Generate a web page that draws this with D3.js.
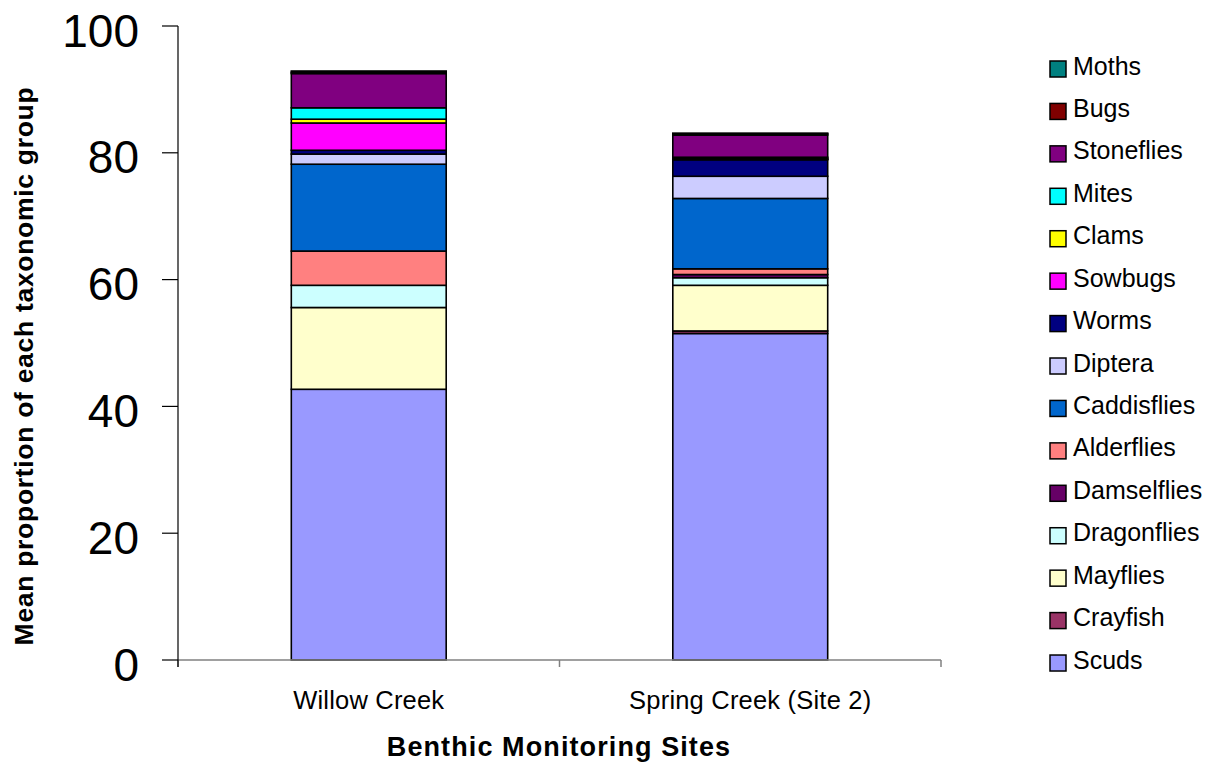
<!DOCTYPE html>
<html><head><meta charset="utf-8">
<script src="https://cdn.jsdelivr.net/npm/d3@7"></script>
<style>
html,body{margin:0;padding:0;background:#fff;}
text{font-family:"Liberation Sans",Arial,sans-serif;}
</style></head>
<body><svg id="c" width="1214" height="764"></svg>
<script>
// Stack order bottom -> top
const taxa = ["Scuds","Crayfish","Mayflies","Dragonflies","Damselflies","Alderflies","Caddisflies","Diptera","Worms","Sowbugs","Clams","Mites","Stoneflies","Bugs","Moths"];
const taxaColors = ["#9999FF","#993366","#FFFFCC","#CCFFFF","#660066","#FF8080","#0066CC","#CCCCFF","#000080","#FF00FF","#FFFF00","#00FFFF","#800080","#800000","#008080"];
const sites = ["Willow Creek","Spring Creek (Site 2)"];
const willowValues = [42.7, 0, 12.9, 3.5, 0, 5.4, 13.7, 1.6, 0.6, 4.3, 0.6, 1.8, 5.4, 0.2, 0.2];
const springValues = [51.5, 0.4, 7.2, 1.2, 0.5, 0.9, 11.1, 3.5, 2.6, 0.1, 0.1, 0.2, 3.5, 0.2, 0.1];
const yTicks = [0,20,40,60,80,100];

const table = sites.map((s,i)=>{
  const vals = i===0 ? willowValues : springValues;
  const row = {site:s};
  taxa.forEach((t,j)=>row[t]=vals[j]);
  return row;
});

const svg = d3.select("#c");
const x = d3.scaleBand().domain(sites).range([178,941]).paddingInner(0.594).paddingOuter(0.297);
const y = d3.scaleLinear().domain([0,100]).range([660,26]);
const color = d3.scaleOrdinal().domain(taxa).range(taxaColors);

const series = d3.stack().keys(taxa)(table);

svg.append("g").selectAll("g").data(series).join("g")
  .attr("fill",d=>color(d.key))
  .selectAll("rect").data(d=>d).join("rect")
  .attr("x",d=>x(d.data.site))
  .attr("width",x.bandwidth())
  .attr("y",d=>y(d[1]))
  .attr("height",d=>Math.max(0,y(d[0])-y(d[1])))
  .attr("stroke","#000").attr("stroke-width",1.6);

// X axis
const xa = svg.append("g");
xa.append("line").attr("x1",178).attr("x2",941).attr("y1",y(0)).attr("y2",y(0))
  .attr("stroke","#808080").attr("stroke-width",1.5);
const bounds = [x.range()[0], ...sites.slice(1).map(s=>x(s)-x.step()*x.paddingInner()/2), x.range()[1]];
xa.selectAll("line.t").data(bounds).join("line").attr("class","t")
  .attr("x1",d=>d).attr("x2",d=>d).attr("y1",y(0)).attr("y2",y(0)+7)
  .attr("stroke","#808080").attr("stroke-width",1.5);
xa.selectAll("text").data(sites).join("text")
  .attr("x",d=>x(d)+x.bandwidth()/2).attr("y",709)
  .attr("text-anchor","middle").attr("font-size",25.5).attr("letter-spacing",0.2).attr("fill","#000")
  .text(d=>d);

// Y axis
const ya = svg.append("g");
ya.append("line").attr("x1",178).attr("x2",178).attr("y1",y(100)).attr("y2",y(0)+7)
  .attr("stroke","#000").attr("stroke-width",1.2);
ya.selectAll("line.t").data(yTicks).join("line").attr("class","t")
  .attr("x1",162).attr("x2",178).attr("y1",d=>y(d)).attr("y2",d=>y(d))
  .attr("stroke","#000").attr("stroke-width",1.2);
ya.selectAll("text").data(yTicks).join("text")
  .attr("x",139).attr("y",d=>y(d)+20.5)
  .attr("text-anchor","end").attr("font-size",46).attr("fill","#000")
  .text(d=>d);

// Axis titles
svg.append("text").attr("x",559).attr("y",756).attr("text-anchor","middle")
  .attr("font-size",27).attr("font-weight","bold").attr("letter-spacing",1.1)
  .text("Benthic Monitoring Sites");
svg.append("text").attr("transform","translate(33,366) rotate(-90)")
  .attr("text-anchor","middle").attr("font-size",26.5).attr("font-weight","bold")
  .attr("letter-spacing",0.7)
  .text("Mean proportion of each taxonomic group");

// Legend
const legendOrder = taxa.slice().reverse();
const lg = svg.append("g").selectAll("g").data(legendOrder).join("g")
  .attr("transform",(d,i)=>`translate(1050,${69+i*42.43})`);
lg.append("rect").attr("x",0).attr("y",-8).attr("width",16).attr("height",16)
  .attr("fill",d=>color(d)).attr("stroke","#000").attr("stroke-width",1.5);
lg.append("text").attr("x",23).attr("y",5.5).attr("font-size",25).attr("fill","#000")
  .text(d=>d);
</script></body></html>
